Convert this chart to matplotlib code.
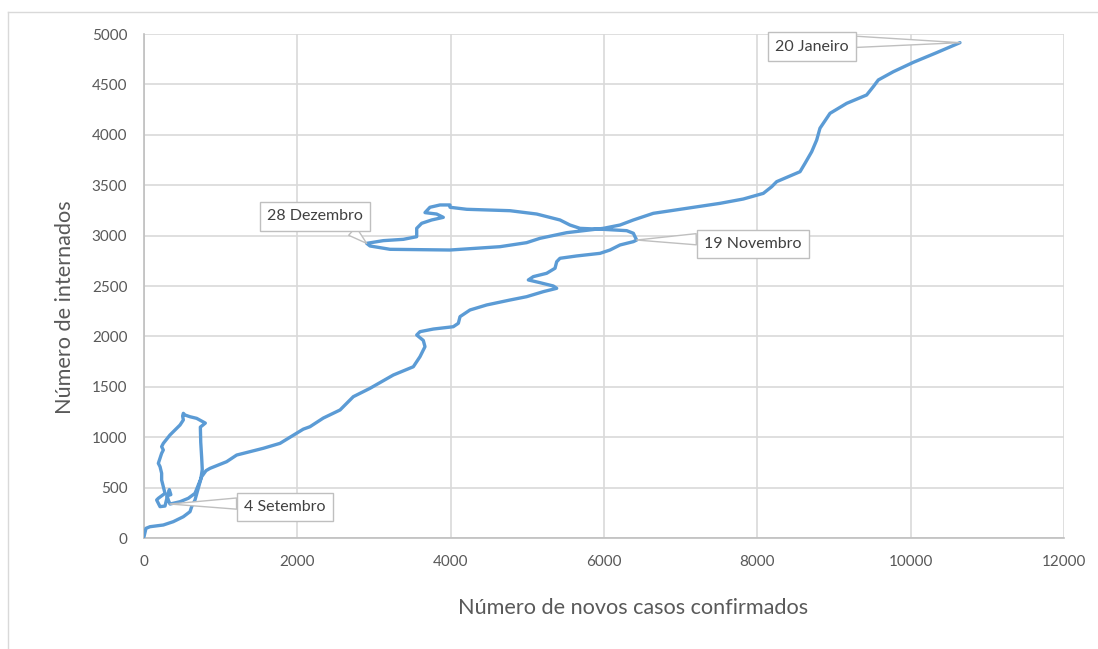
import matplotlib
matplotlib.use("Agg")
import matplotlib.pyplot as plt
from matplotlib.lines import Line2D

# novos casos confirmados (x) vs internados (y), em ordem cronológica
novos_casos = [
    0, 26, 78, 252, 382, 513, 600, 622, 665, 700, 740, 760, 752, 740, 735, 800,
    687, 600, 535, 513, 504, 513, 470, 404, 339, 252, 230, 252, 230, 187, 209,
    230, 230, 252, 274, 187, 165, 209, 274, 300, 330, 350, 300, 320, 339,
    470, 578, 665, 709, 752, 809, 861, 1078, 1209, 1556, 1774, 1991, 2078,
    2165, 2339, 2557, 2730, 2948, 3252, 3513, 3600, 3665, 3643, 3557, 3600,
    3774, 4034, 4100, 4122, 4252, 4470, 4774, 4991, 5209, 5383, 5339, 5165,
    5013, 5078, 5252, 5361, 5383, 5426, 5643, 5948, 6078, 6209, 6383, 6426,
    6404, 6383, 6296, 5991, 5687, 5556, 5426, 5122, 4774, 4209, 3991, 3991,
    3861, 3730, 3665, 3817, 3904, 3752, 3622, 3557, 3557, 3383, 3122, 2904,
    2948, 3209, 3991, 4643, 4991, 5165, 5513, 5991, 6209, 6383, 6643, 7078,
    7513, 7817, 8078, 8187, 8252, 8557, 8622, 8709, 8774, 8817, 8948, 9165,
    9426, 9513, 9578, 9774, 10035, 10339, 10643,
]
internados = [
    13, 96, 112, 129, 162, 211, 261, 311, 377, 470, 580, 680, 800, 950, 1100, 1140,
    1187, 1203, 1220, 1237, 1210, 1171, 1121, 1071, 1022, 939, 906, 873, 840, 741, 708,
    642, 575, 509, 443, 394, 377, 311, 317, 400, 480, 430, 420, 370, 337,
    360, 394, 443, 526, 608, 668, 691, 757, 823, 890, 939, 1039, 1080,
    1104, 1190, 1270, 1402, 1485, 1617, 1699, 1799, 1898, 1960, 2014, 2047,
    2073, 2096, 2130, 2196, 2262, 2312, 2361, 2394, 2444, 2477, 2500, 2533,
    2560, 2593, 2626, 2676, 2741, 2775, 2798, 2824, 2857, 2907, 2940, 2956,
    2989, 3023, 3049, 3062, 3072, 3105, 3155, 3214, 3247, 3261, 3281, 3304,
    3304, 3281, 3228, 3214, 3181, 3155, 3122, 3072, 2989, 2963, 2950, 2923,
    2897, 2864, 2857, 2890, 2930, 2973, 3029, 3072, 3105, 3155, 3221, 3271,
    3320, 3363, 3419, 3485, 3535, 3634, 3717, 3832, 3948, 4065, 4213, 4312,
    4395, 4478, 4544, 4626, 4719, 4815, 4914,
]

callout_labels = ["4 Setembro", "19 Novembro", "28 Dezembro", "20 Janeiro"]
callout_x = [339, 6426, 2904, 10643]
callout_y = [337, 2956, 2923, 4914]

x_ticks = [0, 2000, 4000, 6000, 8000, 10000, 12000]
y_ticks = [0, 500, 1000, 1500, 2000, 2500, 3000, 3500, 4000, 4500, 5000]

LINE_COLOR = "#5B9BD5"
TEXT_COLOR = "#595959"
GRID_COLOR = "#D9D9D9"
FONT = ["Lato", "DejaVu Sans"]

plt.rcParams["font.family"] = FONT

fig = plt.figure(figsize=(10.98, 6.49), dpi=100)
ax = fig.add_axes([144 / 1098, 1 - 538 / 649, 920 / 1098, 504 / 649])

ax.plot(novos_casos, internados, color=LINE_COLOR, lw=2.4,
        solid_joinstyle="round", solid_capstyle="round", zorder=3)

ax.set_xlim(0, 12000)
ax.set_ylim(0, 5000)
ax.set_xticks(x_ticks)
ax.set_yticks(y_ticks)
ax.grid(True, color=GRID_COLOR, lw=1.2, zorder=0)
ax.set_axisbelow(True)
for s in ["top", "right"]:
    ax.spines[s].set_visible(False)
for s in ["left", "bottom"]:
    ax.spines[s].set_color("#BFBFBF")
    ax.spines[s].set_linewidth(1.2)
ax.tick_params(axis="both", length=0, labelsize=11, labelcolor=TEXT_COLOR)
ax.tick_params(axis="x", pad=12)
ax.tick_params(axis="y", pad=12)

ax.text(0.532, -0.139, "Número de novos casos confirmados", transform=ax.transAxes,
        ha="center", va="center", fontsize=15.6, color=TEXT_COLOR)
ax.text(-0.086, 0.458, "Número de internados", transform=ax.transAxes,
        ha="center", va="center", rotation=90, fontsize=15.6, color=TEXT_COLOR)

# caixas de chamada (estilo Excel)
offsets = [(115, -3), (116, -4), (-52, 27), (-148, -4)]
relpos = [(0, 0.75), (0, 0.85), (0.8, 0), (1, 0.85)]
for lab, cx, cy, off, rp in zip(callout_labels, callout_x, callout_y, offsets, relpos):
    ax.annotate(lab, xy=(cx, cy), xytext=off, textcoords="offset pixels",
                ha="center", va="center", fontsize=11.5, color="#404040",
                bbox=dict(boxstyle="square,pad=0.45", fc="white", ec="#BFBFBF", lw=1),
                arrowprops=dict(arrowstyle="wedge,tail_width=0.7,shrink_factor=0.5",
                                fc="white", ec="#BFBFBF", lw=1, relpos=rp,
                                shrinkA=0, shrinkB=0),
                zorder=5)

# moldura exterior (cortada à direita e em baixo)
fig.add_artist(Line2D([7.5 / 1098, 7.5 / 1098], [0, 1 - 11.5 / 649],
                      transform=fig.transFigure, color=GRID_COLOR, lw=1))
fig.add_artist(Line2D([7.5 / 1098, 1], [1 - 11.5 / 649, 1 - 11.5 / 649],
                      transform=fig.transFigure, color=GRID_COLOR, lw=1))

fig.savefig("out.png", dpi=100, facecolor="white")
